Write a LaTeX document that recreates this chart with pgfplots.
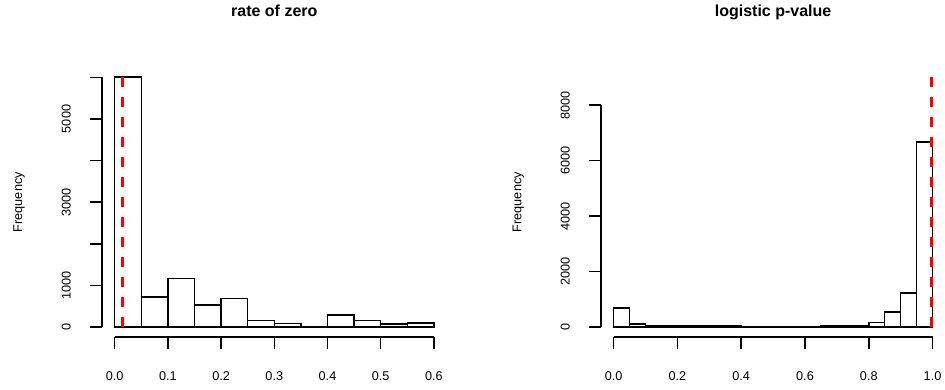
\documentclass[border=0pt]{standalone}
\usepackage{pgfplots}
\pgfplotsset{compat=1.18}
\usepackage{fontspec}
\setmainfont{Liberation Sans}
\begin{document}
\begin{tikzpicture}[x=1pt,y=1pt]
\path[use as bounding box] (0,0) rectangle (945,390);
\pgfplotsset{
  rstyle/.style={
    scale only axis,
    axis x line*=bottom, axis y line*=left,
    axis line style={draw=none},
    clip=false,
    tick align=outside,
    major tick length=12pt,
    tick style={black, line width=1.5pt},
    every tick label/.append style={font=\fontsize{12.7}{14}\selectfont},
    /pgf/number format/assume math mode=true,
    xticklabel style={anchor=north, inner sep=0pt},
    xticklabel shift=22.7pt,
    yticklabel style={rotate=90, anchor=south, inner sep=0pt},
    yticklabel shift=19pt,
    height=269.6pt,
    ylabel={Frequency},
    ylabel style={font=\fontsize{12.7}{14}\selectfont, anchor=south, inner sep=0pt},
    title style={font=\fontsize{16}{18}\selectfont\bfseries, anchor=base, inner sep=0pt},
  }
}
% left panel
\begin{axis}[rstyle,
  at={(101.9pt,53pt)}, anchor=south west,
  width=344.8pt,
  xmin=-0.024, xmax=0.624, ymin=-240, ymax=6240,
  xtick={0,0.1,0.2,0.3,0.4,0.5,0.6},
  xticklabels={0.0,0.1,0.2,0.3,0.4,0.5,0.6},
  ytick={0,1000,2000,3000,4000,5000,6000},
  yticklabels={0,1000,{},3000,{},5000,{}},
  ylabel style={at={(axis description cs:-0.223,0.5)}},
  title={rate of zero},
  title style={at={(axis description cs:0.5,1.1647)}},
]
\addplot[ybar interval, fill=white, draw=black, line width=1.5pt] coordinates {
(0,6005) (0.05,726) (0.1,1169) (0.15,532) (0.2,685) (0.25,161) (0.3,81)
(0.35,0) (0.4,290) (0.45,161) (0.5,73) (0.55,97) (0.6,0)};
\addplot[red, line width=3pt, dash pattern=on 10pt off 10pt, dash phase=10pt] coordinates {(0.015,6240) (0.015,-240)};
\addplot[black, line width=1.5pt] coordinates {(0,-240) (0.6,-240)};
\addplot[black, line width=1.5pt] coordinates {(-0.024,0) (-0.024,6000)};
\end{axis}
% right panel
\begin{axis}[rstyle,
  at={(600.9pt,53pt)}, anchor=south west,
  width=344.4pt,
  xmin=-0.04, xmax=1.04, ymin=-360, ymax=9360,
  xtick={0,0.2,0.4,0.6,0.8,1.0},
  xticklabels={0.0,0.2,0.4,0.6,0.8,1.0},
  ytick={0,2000,4000,6000,8000},
  yticklabels={0,2000,4000,6000,8000},
  ylabel style={at={(axis description cs:-0.223,0.5)}},
  title={logistic p-value},
  title style={at={(axis description cs:0.5,1.1647)}},
]
\addplot[ybar interval, fill=white, draw=black, line width=1.5pt] coordinates {
(0,679) (0.05,109) (0.1,60) (0.15,48) (0.2,40) (0.25,30) (0.3,30) (0.35,30)
(0.4,20) (0.45,20) (0.5,15) (0.55,15) (0.6,20) (0.65,30) (0.7,30) (0.75,40)
(0.8,170) (0.85,545) (0.9,1222) (0.95,6678) (1.0,0)};
\addplot[red, line width=3pt, dash pattern=on 10pt off 10pt, dash phase=10pt] coordinates {(0.996,9360) (0.996,-360)};
\addplot[black, line width=1.5pt] coordinates {(0,-360) (1,-360)};
\addplot[black, line width=1.5pt] coordinates {(-0.04,0) (-0.04,8000)};
\end{axis}
\end{tikzpicture}
\end{document}
